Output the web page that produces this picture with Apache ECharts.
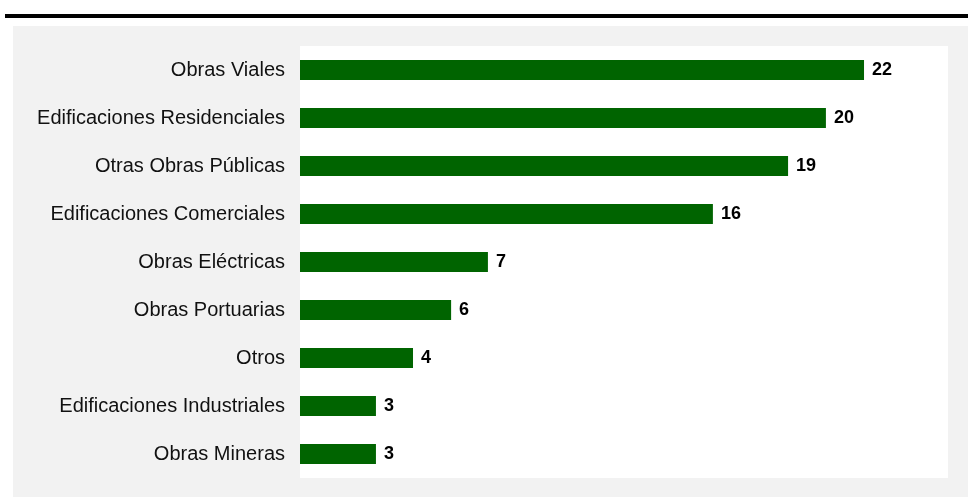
<!DOCTYPE html>
<html>
<head>
<meta charset="utf-8">
<script src="https://cdn.jsdelivr.net/npm/echarts@6/dist/echarts.min.js"></script>
<style>
html,body{margin:0;padding:0;background:#fff;}
#chart{width:968px;height:500px;}
</style>
</head>
<body>
<div id="chart"></div>
<script>
const categories = ["Obras Viales","Edificaciones Residenciales","Otras Obras Públicas","Edificaciones Comerciales","Obras Eléctricas","Obras Portuarias","Otros","Edificaciones Industriales","Obras Mineras"];
const values = [21.76, 20.29, 18.83, 15.93, 7.25, 5.83, 4.36, 2.93, 2.93];
const axisMax = 25;

const chart = echarts.init(document.getElementById('chart'), null, {renderer:'canvas'});
chart.setOption({
  backgroundColor: '#ffffff',
  animation: false,
  graphic: [
    {type:'rect', z:-10, silent:true, shape:{x:13,y:26,width:955,height:471}, style:{fill:'#f2f2f2'}},
    {type:'rect', z:-10, silent:true, shape:{x:5,y:14,width:963,height:4}, style:{fill:'#000000'}}
  ],
  grid: {left:300, right:20, top:46, bottom:22, show:true, backgroundColor:'#ffffff', borderWidth:0},
  xAxis: {type:'value', min:0, max:axisMax, show:false, splitLine:{show:false}},
  yAxis: {
    type:'category', data:categories, inverse:true,
    axisLine:{show:false}, axisTick:{show:false},
    axisLabel:{margin:15, fontFamily:'Liberation Sans, Arial, sans-serif', fontSize:20, color:'#111'}
  },
  series: [{
    type:'bar', data:values, barWidth:20,
    itemStyle:{color:'#006400'},
    label:{show:true, position:'right', distance:8, fontFamily:'Liberation Sans, Arial, sans-serif', fontSize:18, fontWeight:'bold', color:'#000',
      formatter: p => Math.round(p.value)}
  }]
});
</script>
</body>
</html>
